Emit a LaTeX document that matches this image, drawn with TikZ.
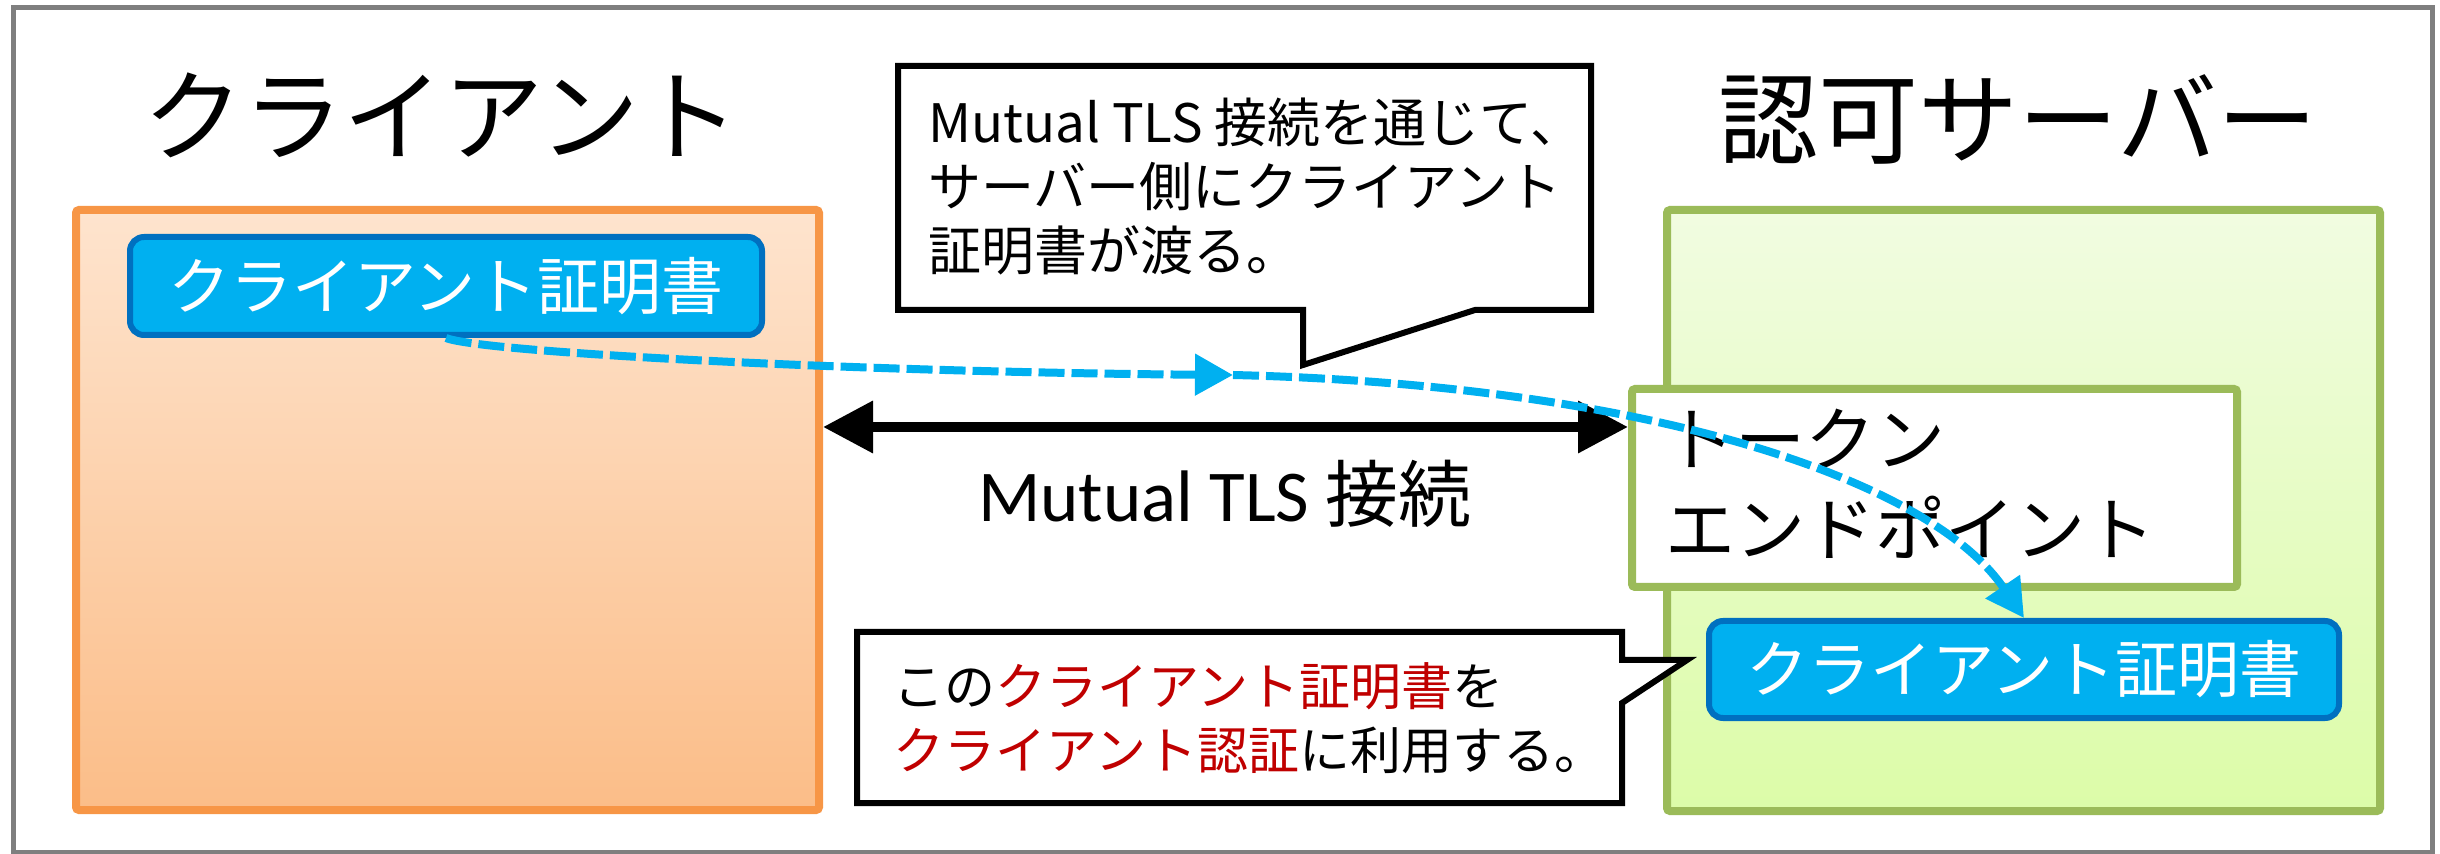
\documentclass[tikz,border=0pt]{standalone}
\usepackage{fontspec}
\setmainfont{Noto Sans CJK JP}
\newfontfamily\latinfont{Carlito}
\usetikzlibrary{arrows.meta}

\definecolor{framegray}{HTML}{7F7F7F}
\definecolor{orangeline}{HTML}{F79646}
\definecolor{orangetop}{HTML}{FEE4CE}
\definecolor{orangebot}{HTML}{FBBD88}
\definecolor{greenline}{HTML}{9BBB59}
\definecolor{greentop}{HTML}{F1FCE1}
\definecolor{greenbot}{HTML}{DCFCA8}
\definecolor{certfill}{HTML}{00B0F0}
\definecolor{certline}{HTML}{0070C0}
\definecolor{accentred}{HTML}{C00000}

\tikzset{
  panel/.style={draw, line width=4pt, rounded corners=1.5pt, anchor=north west, inner sep=0pt},
  cert/.style={draw=certline, fill=certfill, line width=3pt, rounded corners=7pt,
    anchor=north west, inner sep=0pt, text=white, font=\fontsize{31pt}{36pt}\selectfont},
  heading/.style={font=\fontsize{50pt}{60pt}\selectfont},
  note/.style={draw=black, fill=white, line width=3pt, line join=miter},
  flow/.style={draw=certfill, line width=4pt, dash pattern=on 13pt off 3.5pt},
  link/.style={line width=5pt, {Triangle[length=25pt,width=25pt]}-{Triangle[length=25pt,width=25pt]}},
}

\begin{document}
\begin{tikzpicture}[x=0.5pt, y=-0.5pt]
\useasboundingbox (0,0) rectangle (2440,854);

% outer frame
\draw[framegray, line width=2.5pt] (13,8) rectangle (2432,852);

% headings
\node[heading] (clienttitle) at (441,115) {クライアント};
\node[heading] (servertitle) at (2018,119) {認可サーバー};

% client and server panels
\node[panel, draw=orangeline, top color=orangetop, bottom color=orangebot,
  minimum width=371.5pt, minimum height=300pt] (client) at (72,206) {};
\node[panel, draw=greenline, top color=greentop, bottom color=greenbot,
  minimum width=356.5pt, minimum height=300.5pt] (server) at (1663,206) {};

% token endpoint
\node[panel, draw=greenline, fill=white, minimum width=302.5pt, minimum height=99pt] (token) at (1628,385) {};
\node[anchor=base west, font=\fontsize{35pt}{45pt}\selectfont] (tokenlabel) at (1658,466)
  {\vtop{\hbox{トークン}\hbox{エンドポイント}}};

% certificates
\node[cert, minimum width=316pt, minimum height=49pt] (certL) at (127,234) {クライアント証明書};
\node[cert, minimum width=315pt, minimum height=48.5pt] (certR) at (1706,618) {クライアント証明書};

% mutual TLS connection
\coordinate (ay) at (0,427);
\draw[link] (client.east |- ay) -- (token.west |- ay);
\node[anchor=base, font=\fontsize{36.5pt}{44pt}\selectfont] (tlslabel) at (1225,522)
  {{\latinfont Mutual TLS} 接続};

% speech balloons
\draw[note] (898,66) -- (1591,66) -- (1591,310) -- (1475,310) -- (1303,365)
  -- (1303,310) -- (898,310) -- cycle;
\node[anchor=base west, font=\fontsize{26.5pt}{32pt}\selectfont] (noteA) at (921,143)
  {\vtop{\hbox{Mutual TLS 接続を通じて、}\hbox{サーバー側にクライアント}\hbox{証明書が渡る。}}};

\draw[note] (857,632) -- (1622,632) -- (1622,660) -- (1687,660) -- (1622,703)
  -- (1622,803) -- (857,803) -- cycle;
\node[anchor=base west, font=\fontsize{25.5pt}{32pt}\selectfont] (noteB) at (886,705)
  {\vtop{\hbox{この\textcolor{accentred}{クライアント証明書}を}\hbox{\textcolor{accentred}{クライアント認証}に利用する。}}};

% certificate handed over to the server
\coordinate (mid) at (1233,375);
\draw[flow, -{Triangle[length=19pt,width=20pt]}] (certL.south)
  .. controls (480,352) and (850,372) .. (mid);
\draw[flow, -{Triangle[length=19pt,width=20pt]}] (mid)
  .. controls (1650,385) and (1930,480) .. (certR.north);
\end{tikzpicture}
\end{document}
